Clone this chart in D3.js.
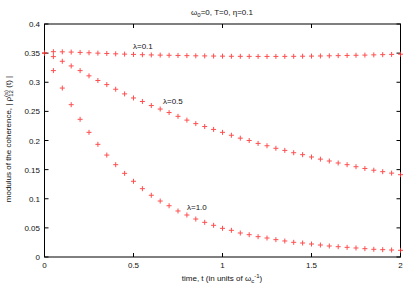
<!DOCTYPE html>
<html><head><meta charset="utf-8">
<script src="https://cdn.jsdelivr.net/npm/d3@7"></script>
<style>body{margin:0;background:#fff}svg{display:block}text{font-family:"Liberation Sans",Arial,sans-serif;fill:#111}</style>
</head><body>
<svg id="c" width="415" height="291"></svg>
<script>
const times = d3.range(0, 41).map(i => +(i * 0.05).toFixed(2));
const lam01 = [0.350,0.3525,0.3522,0.3518,0.3512,0.3506,0.3500,0.3494,0.3488,0.3483,0.3478,0.3473,0.3469,0.3466,0.3463,0.3460,0.3457,0.3454,0.3452,0.3450,0.3448,0.3446,0.3445,0.3444,0.3443,0.3443,0.3443,0.3444,0.3445,0.3447,0.3449,0.3451,0.3454,0.3457,0.3460,0.3463,0.3466,0.3470,0.3474,0.3478,0.3482];
const lam05 = [0.350,0.344,0.336,0.328,0.320,0.311,0.303,0.296,0.288,0.280,0.273,0.267,0.260,0.254,0.248,0.2415,0.235,0.229,0.224,0.219,0.214,0.209,0.204,0.200,0.195,0.191,0.1866,0.183,0.179,0.1757,0.1717,0.168,0.1648,0.1614,0.1585,0.155,0.152,0.149,0.1465,0.144,0.1413];
const lam10 = [0.350,0.320,0.290,0.2615,0.2364,0.214,0.1934,0.175,0.1585,0.1436,0.130,0.1173,0.106,0.0961,0.088,0.079,0.0721,0.0652,0.0595,0.0544,0.0492,0.0458,0.0412,0.0383,0.0349,0.0326,0.0298,0.0275,0.0252,0.024,0.0223,0.0206,0.0189,0.0177,0.0166,0.0155,0.0143,0.0132,0.0126,0.012,0.0115];
const seriesNames = ["λ=0.1","λ=0.5","λ=1.0"];
const xTicks = [0,0.5,1,1.5,2];
const xTickLabels = ["0","0.5","1","1.5","2"];
const yTicks = [0,0.05,0.1,0.15,0.2,0.25,0.3,0.35,0.4];
const yTickLabels = ["0","0.05","0.1","0.15","0.2","0.25","0.3","0.35","0.4"];

const svg = d3.select("#c");
const x = d3.scaleLinear().domain([0,2]).range([44.5,400.5]);
const y = d3.scaleLinear().domain([0,0.4]).range([257,24]);

// ticks (inward) on all four sides
const tl = 4;
const g = svg.append("g").attr("stroke","#000").attr("stroke-width",1);
yTicks.forEach(v=>{
  g.append("line").attr("x1",x(0)).attr("x2",x(0)+tl).attr("y1",y(v)).attr("y2",y(v));
  g.append("line").attr("x1",x(2)).attr("x2",x(2)-tl).attr("y1",y(v)).attr("y2",y(v));
});
xTicks.forEach(v=>{
  g.append("line").attr("x1",x(v)).attr("x2",x(v)).attr("y1",y(0)).attr("y2",y(0)-tl);
  g.append("line").attr("x1",x(v)).attr("x2",x(v)).attr("y1",y(0.4)).attr("y2",y(0.4)+tl);
});
// frame
g.append("rect").attr("x",x(0)).attr("y",y(0.4)).attr("width",x(2)-x(0)).attr("height",y(0)-y(0.4)).attr("fill","none");

// tick labels
yTicks.forEach((v,i)=>{
  svg.append("text").attr("x",40).attr("y",y(v)+3).attr("text-anchor","end").attr("font-size",8).text(yTickLabels[i]);
});
xTicks.forEach((v,i)=>{
  svg.append("text").attr("x",x(v)).attr("y",268).attr("text-anchor","middle").attr("font-size",8).text(xTickLabels[i]);
});

// points
const all = [lam01,lam05,lam10];
const pg = svg.append("g").attr("stroke","#ff3030").attr("stroke-width",1).attr("opacity",0.85);
all.forEach(s=>{
  s.forEach((v,i)=>{
    const px = x(times[i]), py = y(v);
    pg.append("line").attr("x1",px-2.5).attr("x2",px+2.5).attr("y1",py).attr("y2",py);
    pg.append("line").attr("x1",px).attr("x2",px).attr("y1",py-2.5).attr("y2",py+2.5);
  });
});

// series labels
svg.append("text").attr("x",133).attr("y",49).attr("font-size",8).text(seriesNames[0]);
svg.append("text").attr("x",163).attr("y",104).attr("font-size",8).text(seriesNames[1]);
svg.append("text").attr("x",187).attr("y",210).attr("font-size",8).text(seriesNames[2]);

// title
const t = svg.append("text").attr("x",222).attr("y",15).attr("text-anchor","middle").attr("font-size",8);
t.append("tspan").text("ω");
t.append("tspan").attr("font-size",6).attr("dy",2).text("0");
t.append("tspan").attr("dy",-2).text("=0, T=0, η=0.1");

// x label
const xl = svg.append("text").attr("x",222).attr("y",281).attr("text-anchor","middle").attr("font-size",8);
xl.append("tspan").text("time, t (in units of ω");
xl.append("tspan").attr("font-size",6).attr("dy",2).text("c");
xl.append("tspan").attr("font-size",6).attr("dy",-5).text("-1");
xl.append("tspan").attr("dy",3).text(")");

// y label
const yl = svg.append("text").attr("transform","translate(11,139) rotate(-90)").attr("text-anchor","middle").attr("font-size",8);
yl.append("tspan").text("modulus of the coherence, | ρ");
yl.append("tspan").attr("font-size",6).attr("dy",2).text("12");
yl.append("tspan").attr("font-size",6).attr("dy",-5).attr("dx",-6.7).text("(s)");
yl.append("tspan").attr("dy",3).text(" (t) |");
</script>
</body></html>
